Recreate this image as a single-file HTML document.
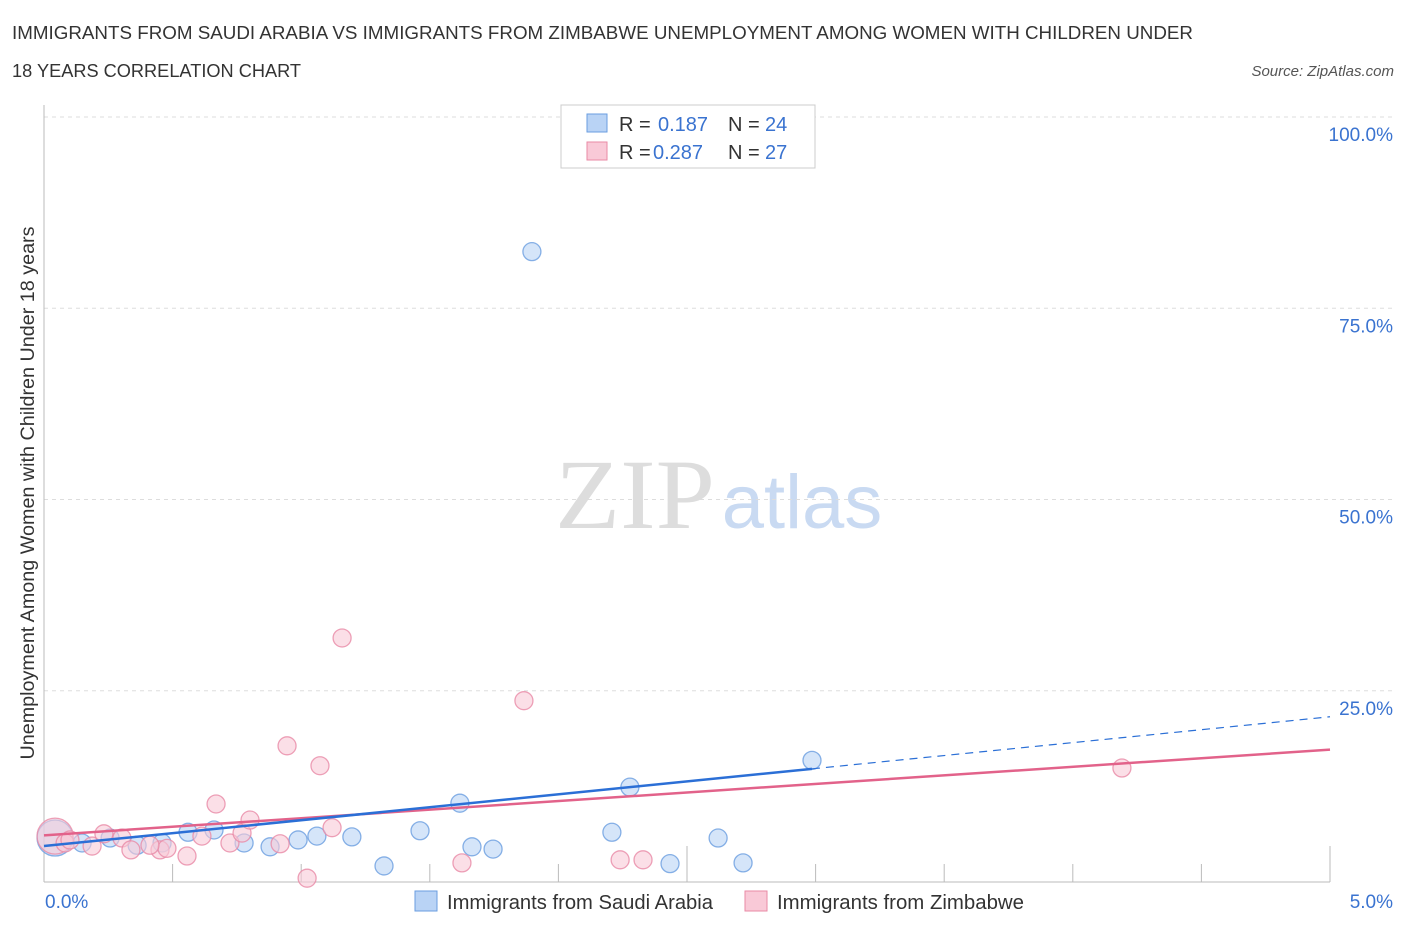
<!DOCTYPE html>
<html><head><meta charset="utf-8"><style>
body{margin:0;background:#fff;font-family:"Liberation Sans",sans-serif;}
svg text{font-family:"Liberation Sans",sans-serif;}
</style></head><body>
<svg width="1406" height="930" viewBox="0 0 1406 930" id="chart">
<text x="12" y="39" font-size="18" fill="#333" textLength="1181" lengthAdjust="spacingAndGlyphs">IMMIGRANTS FROM SAUDI ARABIA VS IMMIGRANTS FROM ZIMBABWE UNEMPLOYMENT AMONG WOMEN WITH CHILDREN UNDER</text>
<text x="12" y="77" font-size="18" fill="#333" textLength="289" lengthAdjust="spacingAndGlyphs">18 YEARS CORRELATION CHART</text>
<text x="1394" y="76" font-size="15" fill="#555" text-anchor="end" font-style="italic">Source: ZipAtlas.com</text>
<text x="34" y="493" font-size="19" fill="#333" text-anchor="middle" textLength="533" lengthAdjust="spacingAndGlyphs" transform="rotate(-90 34 493)">Unemployment Among Women with Children Under 18 years</text>
<text x="635" y="528" font-size="100" fill="#ddd" text-anchor="middle" textLength="160" lengthAdjust="spacingAndGlyphs" style="font-family:'Liberation Serif',serif">ZIP</text>
<text x="802" y="528" font-size="76" fill="#c9daf2" text-anchor="middle">atlas</text>
<g id="grid"></g><g id="axes"></g><g id="pts"></g><g id="lines"></g>
<rect x="561" y="105" width="254" height="63" fill="#fff" stroke="#ccc"/>
<rect x="587" y="114" width="20" height="18" fill="#b9d3f5" stroke="#6a9ee0"/>
<rect x="587" y="142" width="20" height="18" fill="#f9c9d7" stroke="#e98aa6"/>
<g font-size="20">
<text x="619" y="131" fill="#333">R =</text><text x="658" y="131" fill="#3a73d0">0.187</text><text x="728" y="131" fill="#333">N =</text><text x="765" y="131" fill="#3a73d0">24</text></g>
<g font-size="20">
<text x="619" y="159" fill="#333">R =</text><text x="653" y="159" fill="#3a73d0">0.287</text><text x="728" y="159" fill="#333">N =</text><text x="765" y="159" fill="#3a73d0">27</text></g>
<rect x="415" y="891" width="22" height="20" fill="#b9d3f5" stroke="#6a9ee0"/>
<text x="447" y="909" font-size="20" fill="#333" textLength="266" lengthAdjust="spacingAndGlyphs">Immigrants from Saudi Arabia</text>
<rect x="745" y="891" width="22" height="20" fill="#f9c9d7" stroke="#e98aa6"/>
<text x="777" y="909" font-size="20" fill="#333" textLength="247" lengthAdjust="spacingAndGlyphs">Immigrants from Zimbabwe</text>
</svg>
<script>
const yTicks=[25,50,75,100];
const yTickLabels=["25.0%","50.0%","75.0%","100.0%"];
const xTickLabels=["0.0%","5.0%"];
const saudiX=[0.043,0.148,0.257,0.362,0.459,0.560,0.661,0.778,0.879,0.988,1.061,1.197,1.322,1.462,1.617,1.664,1.746,1.897,2.208,2.278,2.434,2.621,2.718,2.986];
const saudiY=[5.75,5.1,5.75,4.8,5.1,6.5,6.8,5.1,4.6,5.5,6.0,5.9,2.1,6.7,10.3,4.6,4.3,82.4,6.5,12.4,2.4,5.75,2.5,15.9];
const zimX=[0.043,0.082,0.187,0.233,0.303,0.338,0.451,0.478,0.556,0.614,0.669,0.723,0.770,0.801,0.918,0.945,1.023,1.073,1.120,1.159,1.625,1.866,2.240,2.329,4.191,0.101,0.412];
const zimY=[6.0,5.1,4.7,6.3,5.75,4.2,4.2,4.4,3.4,6.0,10.2,5.1,6.4,8.1,5.0,17.8,0.5,15.2,7.1,31.9,2.5,23.7,2.9,2.9,14.9,5.5,4.8];
const saudiTrend=[4.7,21.6];
const zimTrend=[6.1,17.3];
const NS="http://www.w3.org/2000/svg";
const X=v=>44+v/5*1286, Y=v=>882-v/100*765;
function mk(t,a,p){const e=document.createElementNS(NS,t);for(const k in a)e.setAttribute(k,a[k]);document.getElementById(p).appendChild(e);return e;}
yTicks.forEach((t,i)=>{
 const l=mk('line',{x1:44,x2:1394,y1:Y(t),y2:Y(t),stroke:'#ddd','stroke-dasharray':'4,4'},'grid');
 
 
 const tx=mk('text',{x:1393,y:Y(t)+24,'font-size':19,fill:'#3a73d0','text-anchor':'end'},'grid');tx.textContent=yTickLabels[i];
 
 
});
let a=mk('line',{x1:44,x2:44,y1:105,y2:882,stroke:'#bbb'},'axes');


a=mk('line',{x1:44,x2:1330,y1:882,y2:882,stroke:'#bbb'},'axes');


for(let i=1;i<=10;i++){const tk=mk('line',{x1:X(i*0.5),x2:X(i*0.5),y1:(i==5||i==10)?846:864,y2:882,stroke:'#bbb'},'axes');
 
 }
[[0,'start',45],[5,'end',1393]].forEach((d,i)=>{const t=mk('text',{x:d[2],y:908,'font-size':19,fill:'#3a73d0','text-anchor':d[1]},'axes');t.textContent=xTickLabels[i];
 
 });
function pts(xs,ys,fill,stroke,name){xs.forEach((x,i)=>{const c=mk('circle',{cx:X(x),cy:Y(ys[i]),r:i==0?18:9,fill:fill,'fill-opacity':0.6,stroke:stroke,'stroke-opacity':0.8,'stroke-width':1.3},'pts');
 
 });}
pts(saudiX,saudiY,'#b9d3f5','#6a9ee0','saudi-point');
pts(zimX,zimY,'#f9c9d7','#e98aa6','zimbabwe-point');
let ln=mk('line',{x1:X(0),y1:Y(zimTrend[0]),x2:X(5),y2:Y(zimTrend[1]),stroke:'#e2628a','stroke-width':2.5},'lines');


const bx=Math.max(...saudiX), by=saudiTrend[0]+(saudiTrend[1]-saudiTrend[0])*bx/5;
ln=mk('line',{x1:X(0),y1:Y(saudiTrend[0]),x2:X(bx),y2:Y(by),stroke:'#2b6fd6','stroke-width':2.5},'lines');


ln=mk('line',{x1:X(bx),y1:Y(by),x2:X(5),y2:Y(saudiTrend[1]),stroke:'#2b6fd6','stroke-width':1.2,'stroke-dasharray':'8,6'},'lines');


</script>
</body></html>
